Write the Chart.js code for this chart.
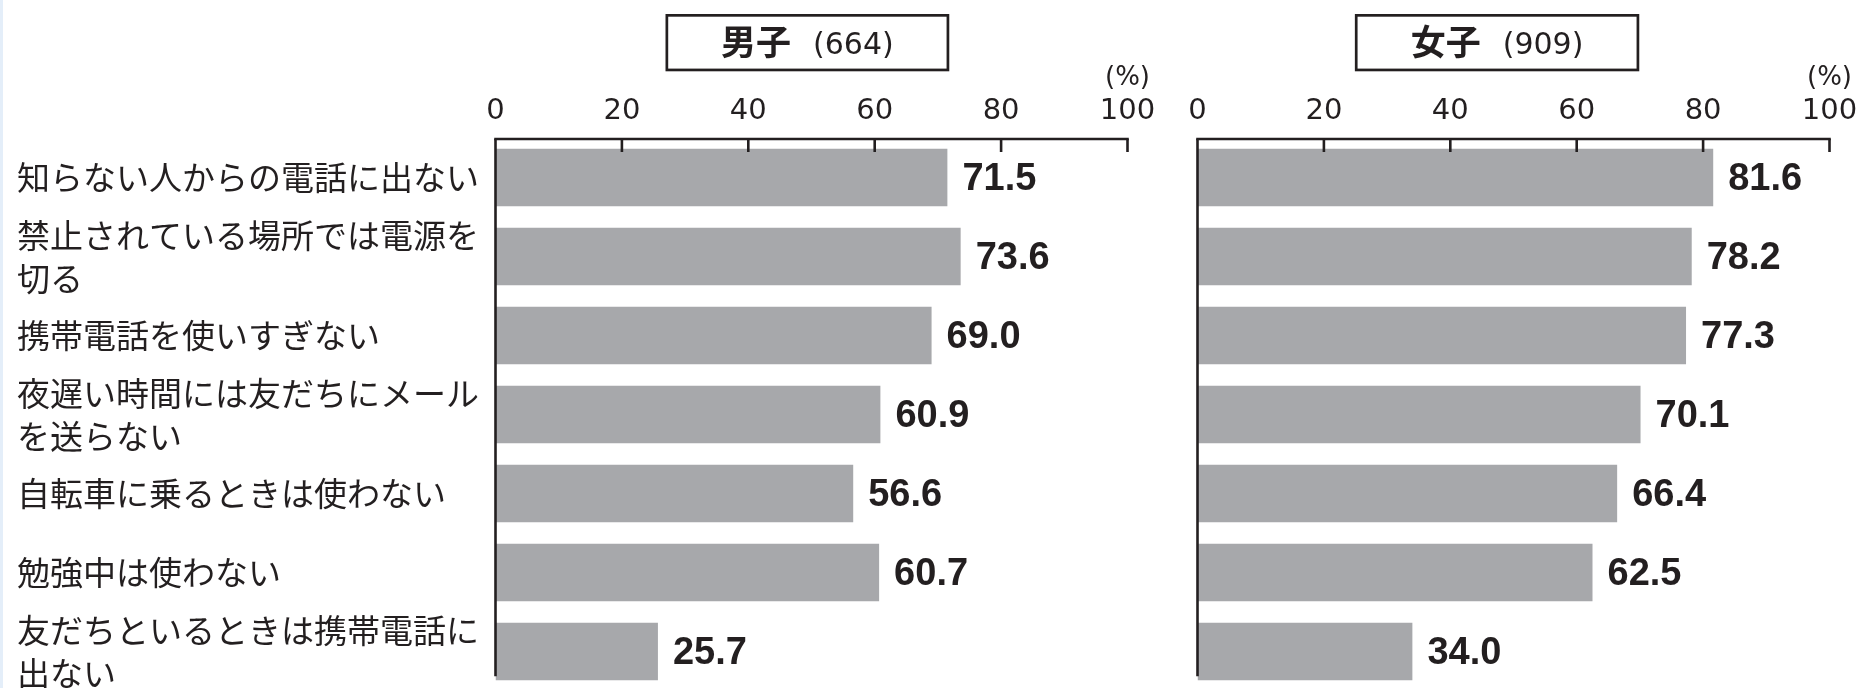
<!DOCTYPE html>
<html>
<head>
<meta charset="utf-8">
<script src="https://cdn.jsdelivr.net/npm/chart.js@4/dist/chart.umd.min.js"></script>
<style>
html, body { margin: 0; padding: 0; background: #ffffff; width: 1861px; height: 688px; overflow: hidden; position: relative; }
#edge { position: absolute; left: 0; top: 0; width: 3px; height: 688px; background: #e4eef9; }
.wrap { position: absolute; top: 0; }
</style>
</head>
<body>
<div id="edge"></div>
<div class="wrap" style="left:0;width:1160px;height:692px"><canvas id="boys" width="1160" height="692"></canvas></div>
<div class="wrap" style="left:1160px;width:701px;height:692px"><canvas id="girls" width="701" height="692"></canvas></div>
<script>
// ---- data ----
const categories = [
  ['知らない人からの電話に出ない'],
  ['禁止されている場所では電源を', '切る'],
  ['携帯電話を使いすぎない'],
  ['夜遅い時間には友だちにメール', 'を送らない'],
  ['自転車に乗るときは使わない'],
  ['勉強中は使わない'],
  ['友だちといるときは携帯電話に', '出ない']
];
const boysValues  = [71.5, 73.6, 69.0, 60.9, 56.6, 60.7, 25.7];
const girlsValues = [81.6, 78.2, 77.3, 70.1, 66.4, 62.5, 34.0];
const axisMin = 0;
const axisMax = 100;
const axisStep = 20;
const unitLabel = '(%)';
const boysTitle = '男子';
const boysCount = '(664)';
const girlsTitle = '女子';
const girlsCount = '(909)';

// ---- styles ----
const INK = '#231f20';
const BAR = '#a7a8ab';
const JP = '"Noto Sans CJK JP", "Noto Sans CJK SC", sans-serif';
const NUM = '"DejaVu Sans", sans-serif';
const VAL = '"Liberation Sans", Arial, sans-serif';

const decoPlugin = {
  id: 'panelDeco',
  afterDatasetsDraw(chart, args, opts) {
    const ctx = chart.ctx;
    const area = chart.chartArea;
    const xs = chart.scales.x;
    const meta = chart.getDatasetMeta(0);
    const data = chart.data.datasets[0].data;
    ctx.save();

    // value labels
    ctx.fillStyle = INK;
    ctx.font = 'bold 38px ' + VAL;
    ctx.textAlign = 'left';
    ctx.textBaseline = 'middle';
    meta.data.forEach((el, i) => {
      ctx.fillText(Number(data[i]).toFixed(1), el.x + 15, el.y + 2);
    });

    // axis lines
    ctx.strokeStyle = INK;
    ctx.lineWidth = 2.6;
    const topY = area.top + 1;
    const xEnd = xs.getPixelForValue(axisMax);
    ctx.beginPath();
    ctx.moveTo(area.left - 1.3, topY);
    ctx.lineTo(xEnd + 1.3, topY);
    ctx.stroke();
    const last = meta.data[meta.data.length - 1];
    const yBottom = last.y + last.height / 2 - 4;
    ctx.beginPath();
    ctx.moveTo(area.left, topY);
    ctx.lineTo(area.left, yBottom);
    ctx.stroke();
    // inward tick marks
    xs.ticks.forEach(t => {
      if (t.value === axisMin) return;
      const px = xs.getPixelForValue(t.value);
      ctx.beginPath();
      ctx.moveTo(px, topY);
      ctx.lineTo(px, area.top + 14);
      ctx.stroke();
    });

    // unit label
    ctx.font = '26px ' + NUM;
    ctx.textAlign = 'center';
    ctx.textBaseline = 'middle';
    ctx.fillText(unitLabel, xEnd, 78);

    // title box
    const bx1 = xs.getPixelForValue(opts.boxFrom);
    const bx2 = xs.getPixelForValue(opts.boxTo);
    ctx.lineWidth = 2.7;
    ctx.strokeRect(bx1 + 1.35, 15.35, bx2 - bx1 - 2.7, 54.6);
    ctx.font = 'bold 35px ' + JP;
    const w1 = ctx.measureText(opts.title).width;
    ctx.font = '30px ' + NUM;
    const w2 = ctx.measureText(opts.count).width;
    const gap = 22;
    const total = w1 + gap + w2;
    let sx = (bx1 + bx2) / 2 - total / 2;
    ctx.textAlign = 'left';
    ctx.textBaseline = 'middle';
    ctx.font = 'bold 35px ' + JP;
    ctx.fillText(opts.title, sx, 42);
    ctx.textBaseline = 'alphabetic';
    ctx.font = '30px ' + NUM;
    ctx.fillText(opts.count, sx + w1 + gap, 53.5);
    ctx.restore();
  }
};

function makeChart(id, values, showLabels, deco, padding, yWidth) {
  return new Chart(document.getElementById(id), {
    type: 'bar',
    data: {
      labels: categories,
      datasets: [{
        data: values,
        backgroundColor: BAR,
        borderWidth: 0,
        categoryPercentage: 1.0,
        barPercentage: 0.73
      }]
    },
    options: {
      indexAxis: 'y',
      responsive: false,
      animation: false,
      events: [],
      layout: { padding: padding },
      plugins: {
        legend: { display: false },
        tooltip: { enabled: false },
        title: { display: false },
        panelDeco: deco
      },
      scales: {
        x: {
          position: 'top',
          min: axisMin,
          max: axisMax,
          grid: { display: false, drawTicks: false },
          border: { display: false },
          ticks: {
            stepSize: axisStep,
            autoSkip: false,
            maxRotation: 0,
            padding: 12,
            color: INK,
            font: { family: NUM, size: 29, lineHeight: 1 }
          },
          afterFit: s => { s.height = 138; s.paddingLeft = 0; s.paddingRight = 0; }
        },
        y: {
          display: showLabels,
          grid: { display: false, drawTicks: false },
          border: { display: false },
          ticks: {
            crossAlign: 'far',
            autoSkip: false,
            color: INK,
            font: { family: JP, size: 33, lineHeight: 43 / 33 }
          },
          afterFit: s => { if (yWidth) s.width = yWidth; s.paddingTop = 0; s.paddingBottom = 0; }
        }
      }
    },
    plugins: [decoPlugin]
  });
}

makeChart('boys', boysValues, true,
  { title: boysTitle, count: boysCount, boxFrom: 26.9, boxTo: 71.8 },
  { left: 17, right: 32.5, top: 0, bottom: 1 }, 478.5);
makeChart('girls', girlsValues, false,
  { title: girlsTitle, count: girlsCount, boxFrom: 24.9, boxTo: 69.9 },
  { left: 37.5, right: 31.5, top: 0, bottom: 1 }, 0);
</script>
</body>
</html>
